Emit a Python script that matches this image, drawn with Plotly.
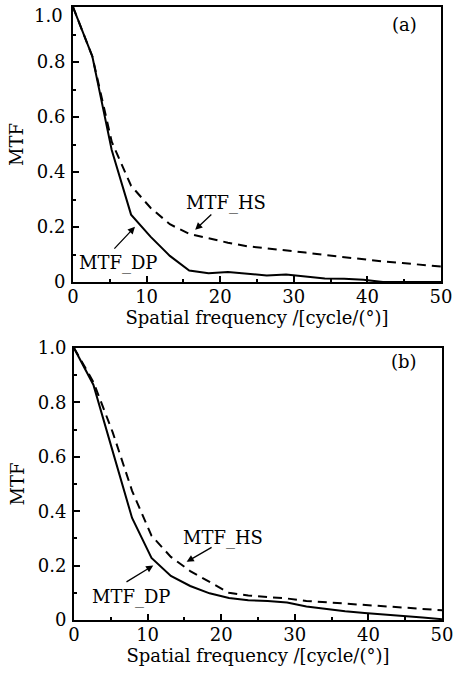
import plotly.graph_objects as go

# Spatial frequency samples [cycle/(°)]
freq = [0, 2.63, 5.26, 7.89, 10.53, 13.16, 15.79, 18.42, 21.05, 23.68,
        26.32, 28.95, 31.58, 34.21, 36.84, 39.47, 42.11, 44.74, 47.37, 50]

# Panel (a)
mtf_dp_a = [1.0, 0.82, 0.48, 0.245, 0.165, 0.095, 0.042, 0.032, 0.036, 0.030,
            0.024, 0.027, 0.020, 0.013, 0.012, 0.008, 0.0, 0.0, 0.0, 0.0]
mtf_hs_a = [1.0, 0.82, 0.51, 0.35, 0.27, 0.21, 0.175, 0.158, 0.143, 0.130,
            0.123, 0.115, 0.107, 0.098, 0.090, 0.082, 0.075, 0.069, 0.063, 0.056]

# Panel (b)
mtf_dp_b = [1.0, 0.865, 0.62, 0.375, 0.228, 0.162, 0.125, 0.098, 0.081, 0.073,
            0.070, 0.064, 0.050, 0.040, 0.032, 0.026, 0.021, 0.015, 0.009, 0.003]
mtf_hs_b = [1.0, 0.875, 0.69, 0.475, 0.31, 0.232, 0.18, 0.14, 0.10, 0.09,
            0.085, 0.079, 0.070, 0.065, 0.060, 0.056, 0.051, 0.046, 0.041, 0.036]

x_ticks = [0, 10, 20, 30, 40, 50]
y_ticks = [0, 0.2, 0.4, 0.6, 0.8, 1.0]
y_tick_text = ["0", "0.2", "0.4", "0.6", "0.8", "1.0"]
y_tick_text_a = ["0", "0.2", "0.4", "0.6", "0.8", ""]   # top "1.0" drawn below

FONT = "DejaVu Serif"
FS = 18
W, H = 470, 674

fig = go.Figure()
for xa, ya, dp, hs in [("x", "y", mtf_dp_a, mtf_hs_a), ("x2", "y2", mtf_dp_b, mtf_hs_b)]:
    fig.add_trace(go.Scatter(x=freq, y=hs, mode="lines", xaxis=xa, yaxis=ya,
                             line=dict(color="black", width=2, dash="9px,6px"),
                             showlegend=False, name="MTF_HS"))
    fig.add_trace(go.Scatter(x=freq, y=dp, mode="lines", xaxis=xa, yaxis=ya,
                             line=dict(color="black", width=2),
                             showlegend=False, name="MTF_DP"))

def xaxis_cfg(domain, anchor):
    return dict(domain=domain, anchor=anchor, range=[0, 50],
                tickvals=x_ticks, ticks="inside", ticklen=6, tickwidth=1.5,
                tickcolor="black", showline=True, linecolor="black", linewidth=2,
                mirror=True, showgrid=False, zeroline=False,
                minor=dict(dtick=5, tick0=0, ticks="inside", ticklen=3,
                           tickwidth=1.5, tickcolor="black", showgrid=False),
                tickfont=dict(family=FONT, size=FS, color="black"),
                title=dict(text="Spatial frequency /[cycle/(°)]",
                           font=dict(family=FONT, size=FS, color="black"),
                           standoff=4),
                automargin=False, ticklabelstandoff=-3)

def yaxis_cfg(domain, anchor, ttext):
    return dict(domain=domain, anchor=anchor, range=[0, 1.0],
                tickvals=y_ticks, ticktext=ttext, ticks="inside",
                ticklen=6, tickwidth=1.5, tickcolor="black",
                showline=True, linecolor="black", linewidth=2, mirror=True,
                showgrid=False, zeroline=False,
                minor=dict(dtick=0.1, tick0=0, ticks="inside", ticklen=3,
                           tickwidth=1.5, tickcolor="black", showgrid=False),
                tickfont=dict(family=FONT, size=FS, color="black"),
                title=dict(text="MTF", font=dict(family=FONT, size=FS, color="black"),
                           standoff=8),
                automargin=False, ticklabelstandoff=2)

fig.update_layout(
    width=W, height=H,
    margin=dict(l=0, r=0, t=0, b=0),
    paper_bgcolor="white", plot_bgcolor="white",
    xaxis=xaxis_cfg([73 / W, 441 / W], "y"),
    yaxis=yaxis_cfg([1 - 282 / H, 1 - 7 / H], "x", y_tick_text_a),
    xaxis2=xaxis_cfg([74 / W, 442 / W], "y2"),
    yaxis2=yaxis_cfg([1 - 620 / H, 1 - 348 / H], "x2", y_tick_text),
)

tfont = dict(family=FONT, size=FS, color="black")
# top-panel "1.0" label, sitting just inside the page edge as in the reference
fig.add_annotation(xref="paper", yref="paper", x=65 / W, y=1 - 3 / H, text="1.0",
                   showarrow=False, font=tfont, xanchor="right", yanchor="top")

labels = [
    ("x", "y", 45.1, 0.935, "(a)"),
    ("x", "y", 20.8, 0.287, "MTF_HS"),
    ("x", "y", 6.05, 0.069, "MTF_DP"),
    ("x2", "y2", 44.8, 0.95, "(b)"),
    ("x2", "y2", 20.2, 0.301, "MTF_HS"),
    ("x2", "y2", 7.74, 0.085, "MTF_DP"),
]
for xr, yr, x, y, t in labels:
    fig.add_annotation(xref=xr, yref=yr, x=x, y=y, text=t, showarrow=False,
                       font=tfont, xanchor="center", yanchor="middle")

arrows = [
    ("x", "y", 16.6, 0.19, 19.0, 0.251),
    ("x", "y", 8.42, 0.201, 5.43, 0.116),
    ("x2", "y2", 15.3, 0.214, 18.9, 0.27),
    ("x2", "y2", 10.77, 0.20, 6.93, 0.137),
]
for xr, yr, hx, hy, tx, ty in arrows:
    fig.add_annotation(xref=xr, yref=yr, x=hx, y=hy, axref=xr, ayref=yr,
                       ax=tx, ay=ty, text="", showarrow=True, arrowhead=2,
                       arrowsize=1.1, arrowwidth=1.3, arrowcolor="black",
                       standoff=0, startstandoff=0)

fig.write_html("out.html",
               config={"displayModeBar": False},
               post_script="document.body.style.margin='0px';"
                           "document.body.style.padding='0px';"
                           "document.body.style.overflow='hidden';")
